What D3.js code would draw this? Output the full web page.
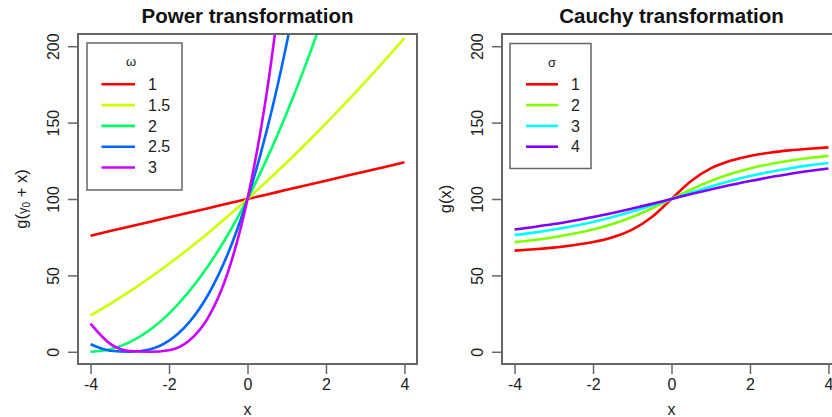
<!DOCTYPE html>
<html>
<head>
<meta charset="utf-8">
<script src="https://cdn.jsdelivr.net/npm/d3@7"></script>
<style>
  body { margin: 0; background: #fff; }
  svg { font-family: "Liberation Sans", Arial, sans-serif; }
</style>
</head>
<body>
<svg width="832" height="417"></svg>
<script>
// x grid shared by all curves
let xs = [-4, -3.5, -3, -2.5, -2, -1.5, -1, -0.5, 0, 0.5, 1, 1.5, 2, 2.5, 3, 3.5, 4];
let yTicks = [0, 50, 100, 150, 200];
let xTicks = [-4, -2, 0, 2, 4];

// power transformation (curves leave the top early)
let omegaLabels = ["1", "1.5", "2", "2.5", "3"];
let powerW1   = [76, 79, 82, 85, 88, 91, 94, 97, 100, 103, 106, 109, 112, 115, 118, 121, 124];
let powerW15  = [23.9, 31.4, 39.5, 48.3, 57.6, 67.5, 77.8, 88.7, 100, 111.8, 123.9, 136.5, 149.5, 162.9, 176.7, 190.8, 205.3];
let powerW2   = [0, 1.6, 6.3, 14.1, 25.0, 39.1, 56.3, 76.6, 100, 126.6, 156.3, 189.1, 225.0];
let powerW25  = [4.9, 0.7, 0.0, 1.5, 7.3, 18.9, 37.5, 64.2, 100, 145.7, 202.0, 269.6];
let powerW3   = [18.4, 5.2, 0.5, 0.0, 1.0, 7.0, 22.5, 52.0, 100, 171.1, 269.8];
let powerColors = ["#FF0000", "#CCFF00", "#00FF66", "#0066FF", "#CC00FF"];

// cauchy transformation
let sigmaLabels = ["1", "2", "3", "4"];
let cauchyS1 = [66.2, 67.1, 68.2, 69.7, 71.8, 75.0, 80.0, 88.2, 100, 111.8, 120.0, 125.0, 128.2, 130.3, 131.8, 132.9, 133.8];
let cauchyS2 = [71.8, 73.2, 75.0, 77.2, 80.0, 83.6, 88.2, 93.8, 100, 106.2, 111.8, 116.4, 120.0, 122.8, 125.0, 126.8, 128.2];
let cauchyS3 = [76.4, 78.0, 80.0, 82.3, 85.0, 88.2, 91.8, 95.8, 100, 104.2, 108.2, 111.8, 115.0, 117.7, 120.0, 122.0, 123.6];
let cauchyS4 = [80.0, 81.7, 83.6, 85.8, 88.2, 90.9, 93.8, 96.8, 100, 103.2, 106.2, 109.1, 111.8, 114.2, 116.4, 118.3, 120.0];
let cauchyColors = ["#FF0000", "#80FF00", "#00FFFF", "#8000FF"];

let svg = d3.select("svg");
let axisCol = "#666";

function panel(opt) {
  let g = svg.append("g");
  let x = d3.scaleLinear().domain([-4.32, 4.32]).range([opt.left, opt.left + 339]);
  let y = d3.scaleLinear().domain([-8, 208]).range([364, 34]);

  g.append("clipPath").attr("id", opt.id)
    .append("rect")
      .attr("x", x.range()[0]).attr("y", 34)
      .attr("width", 339).attr("height", 330);

  let line = d3.line()
    .x((d, i) => x(xs[i]))
    .y(d => y(d))
    .curve(d3.curveMonotoneX);

  g.append("g").attr("clip-path", "url(#" + opt.id + ")")
    .selectAll("path")
    .data(opt.series)
    .join("path")
      .attr("fill", "none")
      .attr("stroke", (d, i) => opt.colors[i])
      .attr("stroke-width", 2.6)
      .attr("d", line);

  // axes (R style, ticks outward)
  let ax = g.append("g").attr("transform", "translate(0,364)")
    .call(d3.axisBottom(x).tickValues(xTicks).tickSize(10).tickPadding(5).tickFormat(d3.format("d")));
  let ay = g.append("g").attr("transform", "translate(" + x.range()[0] + ",0)")
    .call(d3.axisLeft(y).tickValues(yTicks).tickSize(10).tickPadding(0));
  [ax, ay].forEach(a => {
    a.select(".domain").remove();
    a.selectAll("line").attr("stroke", axisCol).attr("stroke-width", 1.5);
    a.selectAll("text").attr("fill", "#222").style("font-size", "16px").attr("font-family", null);
  });
  ax.selectAll("text").text(d => d < 0 ? "-" + Math.abs(d) : d);
  ay.selectAll("text")
    .attr("text-anchor", "middle")
    .attr("dy", null)
    .attr("x", null)
    .attr("transform", d => "translate(-25,0) rotate(-90) translate(0,6)");

  g.append("rect")
    .attr("x", x.range()[0]).attr("y", 34)
    .attr("width", 339).attr("height", 330)
    .attr("fill", "none").attr("stroke", axisCol).attr("stroke-width", 2);

  g.append("text")
    .attr("x", x.range()[0] + 169.5).attr("y", 23)
    .attr("text-anchor", "middle")
    .attr("font-weight", "bold").style("font-size", "20.5px").attr("fill", "#111")
    .text(opt.title);

  g.append("text")
    .attr("x", x(0)).attr("y", 415)
    .attr("text-anchor", "middle").style("font-size", "16px").attr("fill", "#222")
    .text("x");

  let yl = g.append("text")
    .attr("transform", "translate(" + opt.ylabX + ",199) rotate(-90)")
    .attr("text-anchor", "middle").style("font-size", "16.5px").attr("fill", "#222");
  opt.ylab(yl);

  // legend
  let L = opt.legend;
  g.append("rect")
    .attr("x", L.x).attr("y", L.y).attr("width", L.w).attr("height", L.h)
    .attr("fill", "#fff").attr("stroke", axisCol).attr("stroke-width", 1.5);
  g.append("text")
    .attr("x", L.titleX).attr("y", L.y + 23)
    .attr("text-anchor", "middle").style("font-size", "13px").attr("fill", "#222")
    .text(L.title);
  let rows = g.append("g").selectAll("g")
    .data(opt.labels)
    .join("g")
      .attr("transform", (d, i) => "translate(0," + (84.3 + i * 20.8) + ")");
  rows.append("line")
    .attr("x1", L.lineX1).attr("x2", L.lineX2)
    .attr("stroke", (d, i) => opt.colors[i]).attr("stroke-width", 2.6);
  rows.append("text")
    .attr("x", L.textX).attr("dy", "0.36em")
    .style("font-size", "16px").attr("fill", "#222")
    .text(d => d);
}

panel({
  id: "clipPower",
  left: 78,
  title: "Power transformation",
  series: [powerW1, powerW15, powerW2, powerW25, powerW3],
  colors: powerColors,
  labels: omegaLabels,
  ylabX: 27,
  ylab: t => {
    t.append("tspan").text("g(");
    t.append("tspan").style("font-size", "13px").text("γ");
    t.append("tspan").style("font-size", "10px").attr("dy", 3).text("0");
    t.append("tspan").attr("dy", -3).text(" + x)");
  },
  legend: { x: 87, y: 43, w: 95, h: 147, title: "ω", titleX: 131, lineX1: 101.5, lineX2: 135, textX: 148 }
});

panel({
  id: "clipCauchy",
  left: 502,
  title: "Cauchy transformation",
  series: [cauchyS1, cauchyS2, cauchyS3, cauchyS4],
  colors: cauchyColors,
  labels: sigmaLabels,
  ylabX: 451,
  ylab: t => t.text("g(x)"),
  legend: { x: 510, y: 43.5, w: 81, h: 125, title: "σ", titleX: 552, lineX1: 526, lineX2: 558, textX: 571 }
});
</script>
</body>
</html>
